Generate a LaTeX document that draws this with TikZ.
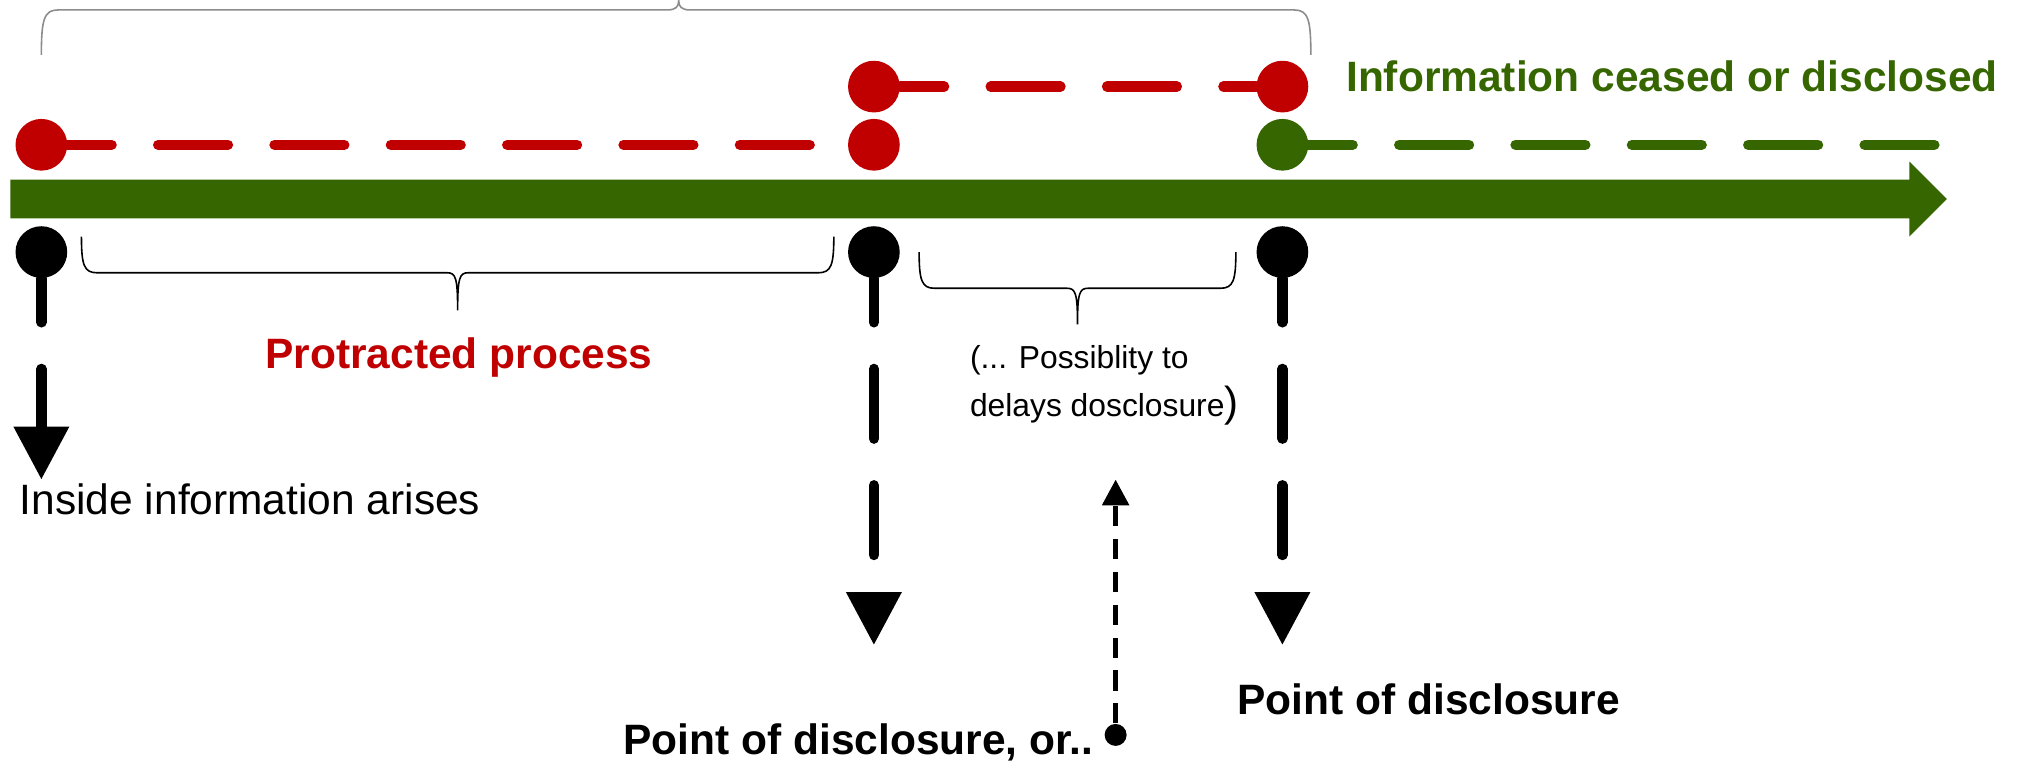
\documentclass[tikz,border=0pt]{standalone}
\usepackage{fontspec}
\setmainfont{Liberation Sans}
\usetikzlibrary{arrows.meta}

\definecolor{discred}{RGB}{192,0,0}
\definecolor{discgreen}{RGB}{54,102,0}
\definecolor{bracegray}{RGB}{140,140,140}

\begin{document}
\begin{tikzpicture}[
        timedot/.style={circle, inner sep=0pt, minimum size=0.8cm},
        dashtrack/.style={line width=0.16cm, line cap=round, dash pattern=on 1.08cm off 0.72cm, dash phase=0.4cm},
        droppin/.style={dashtrack, black, -{Triangle[length=0.82cm, width=0.82cm]}},
        bracket/.style={line width=0.7pt},
        caption/.style={anchor=base west, inner sep=0pt, font=\fontsize{18.7}{22}\selectfont}
    ]
            \useasboundingbox (0, 0) rectangle (31.36, -11.84);

            % time line
            \fill[discgreen] (0.16, -2.78) -- (29.54, -2.78) -- (29.54, -2.5) -- (30.12, -3.08)
                -- (29.54, -3.66) -- (29.54, -3.38) -- (0.16, -3.38) -- cycle;

            % dots
            \node[timedot, fill=discred] (r1) at (0.64, -2.24) {};
            \node[timedot, fill=discred] (r2) at (13.52, -2.24) {};
            \node[timedot, fill=discred] (r3) at (13.52, -1.34) {};
            \node[timedot, fill=discred] (r4) at (19.84, -1.34) {};
            \node[timedot, fill=discgreen] (g1) at (19.84, -2.24) {};
            \node[timedot, fill=black] (b1) at (0.64, -3.9) {};
            \node[timedot, fill=black] (b2) at (13.52, -3.9) {};
            \node[timedot, fill=black] (b3) at (19.84, -3.9) {};
            \coordinate (gend) at (29.94, -2.24);
            \coordinate (a1) at (0.64, -7.42);
            \coordinate (a2) at (13.52, -9.98);
            \coordinate (a3) at (19.84, -9.98);

            \draw[dashtrack, discred] (r1) -- (r2);
            \draw[dashtrack, discred] (r3) -- (r4);
            \draw[dashtrack, discgreen] (g1) -- (gend);
            \draw[droppin] (b1) -- (a1);
            \draw[droppin] (b2) -- (a2);
            \draw[droppin] (b3) -- (a3);

            % braces
            \draw[bracket, bracegray] (0.64, -0.85) .. controls (0.64, -0.3) and (0.68, -0.154) .. (0.9, -0.154)
                -- (10.32, -0.154) .. controls (10.46, -0.154) and (10.5, -0.1) .. (10.5, -0.01)
                .. controls (10.5, -0.1) and (10.54, -0.154) .. (10.68, -0.154)
                -- (20.02, -0.154) .. controls (20.24, -0.154) and (20.28, -0.3) .. (20.28, -0.85);
            \draw[bracket] (1.26, -3.66) .. controls (1.26, -4.1) and (1.3, -4.22) .. (1.5, -4.22)
                -- (6.92, -4.22) .. controls (7.05, -4.22) and (7.08, -4.3) .. (7.08, -4.8)
                .. controls (7.08, -4.3) and (7.11, -4.22) .. (7.24, -4.22)
                -- (12.66, -4.22) .. controls (12.86, -4.22) and (12.9, -4.1) .. (12.9, -3.66);
            \draw[bracket] (14.22, -3.9) .. controls (14.22, -4.34) and (14.26, -4.46) .. (14.46, -4.46)
                -- (16.51, -4.46) .. controls (16.64, -4.46) and (16.67, -4.54) .. (16.67, -5.02)
                .. controls (16.67, -4.54) and (16.7, -4.46) .. (16.83, -4.46)
                -- (18.88, -4.46) .. controls (19.08, -4.46) and (19.12, -4.34) .. (19.12, -3.9);

            % delay arrow
            \node[circle, fill=black, inner sep=0pt, minimum size=0.34cm] (src) at (17.26, -11.37) {};
            \coordinate (delaytip) at (17.26, -7.42);
            \draw[line width=0.07cm, dash pattern=on 0.31cm off 0.2cm, -{Triangle[length=0.4cm, width=0.41cm]}] (src) -- (delaytip);

            % labels
            \node[caption, text=discgreen] (ceased) at (20.82, -1.42) {\textbf{Information ceased or disclosed}};
            \node[caption, text=discred] (protracted) at (4.1, -5.7) {\textbf{Protracted process}};
            \node[caption] (arises) at (0.3, -7.96) {Inside information arises};
            \node[caption, align=left, font=\fontsize{14}{21.3}\selectfont] (delay) at (15.0, -6.45)
                {(... Possiblity to\\delays dosclosure{\fontsize{18.5}{22}\selectfont)}};
            \node[caption] (discl1) at (9.64, -11.68) {\textbf{Point of disclosure, or..}};
            \node[caption] (discl2) at (19.14, -11.06) {\textbf{Point of disclosure}};
        \end{tikzpicture}
\end{document}
